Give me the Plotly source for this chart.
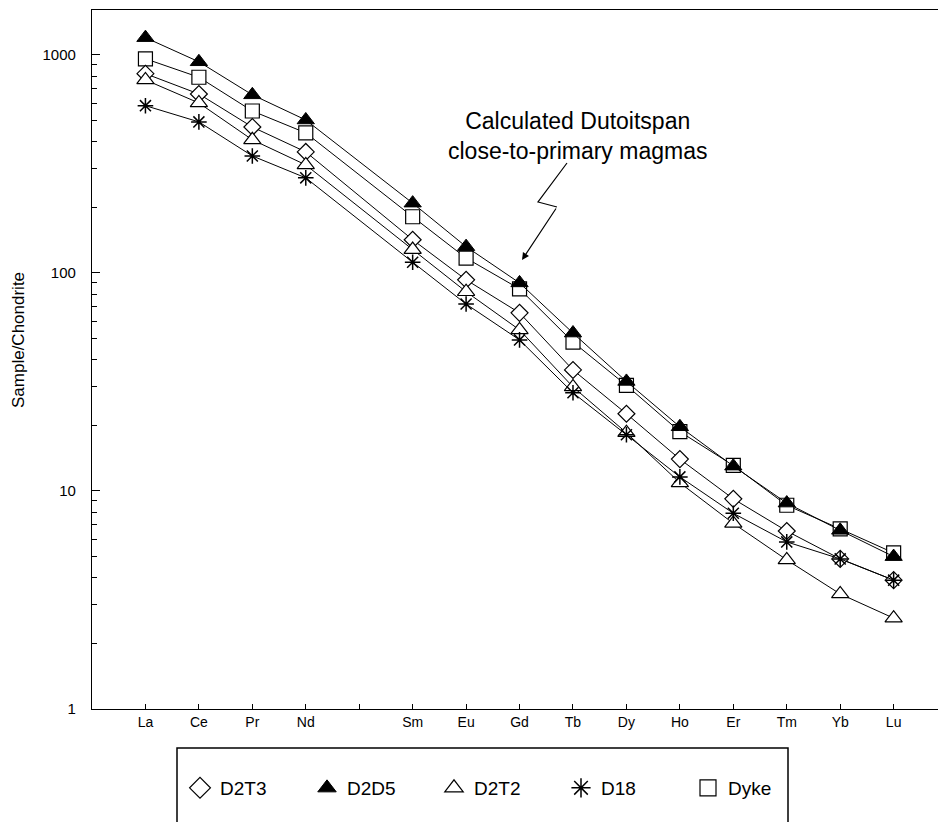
import plotly.graph_objects as go

# ---- data ----
elements = ["La", "Ce", "Pr", "Nd", "Pm", "Sm", "Eu", "Gd", "Tb", "Dy", "Ho", "Er", "Tm", "Yb", "Lu"]
D2T3 = [820, 662, 467, 359, None, 142, 93, 65.6, 35.9, 22.6, 14.0, 9.2, 6.55, 4.88, 3.9]
D2D5 = [1200, 930, 656, 503, None, 209, 132, 90, 53, 31.8, 19.7, 13.0, 8.8, 6.6, 5.0]
D2T2 = [768, 602, 408, 313, None, 128, 82, 54.8, 30.0, 18.5, 10.9, 7.1, 4.83, 3.37, 2.61]
D18 = [585, 493, 344, 273, None, 112, 72, 49.3, 28.2, 18.1, 11.6, 7.9, 5.84, 4.88, 3.9]
Dyke = [960, 790, 553, 439, None, 181, 117, 84.5, 48.2, 30.5, 18.7, 13.1, 8.6, 6.7, 5.2]

x_pos = list(range(1, len(elements) + 1))
tick_text = [e if e != "Pm" else "" for e in elements]

W, H = 938, 822
ML, MR, MT, MB = 92, 0, 10, 113
PW, PH = W - ML - MR, H - MT - MB


def px(x):
    return (x - ML) / PW


def py(y):
    return (H - MB - y) / PH


FONT = "Arial, Liberation Sans, sans-serif"

series = [
    ("Dyke", Dyke, dict(symbol="square", size=14, color="white", line=dict(color="black", width=1.2))),
    ("D2D5", D2D5, dict(symbol="triangle-up", size=15, color="black", line=dict(color="black", width=1))),
    ("D2T3", D2T3, dict(symbol="diamond", size=13, color="white", line=dict(color="black", width=1.2))),
    ("D2T2", D2T2, dict(symbol="triangle-up", size=15, color="white", line=dict(color="black", width=1.2))),
    ("D18", D18, dict(symbol="asterisk-open", size=13, color="black", line=dict(color="black", width=1.5))),
]

fig = go.Figure()
for name, vals, mk in series:
    fig.add_trace(go.Scatter(
        x=x_pos, y=vals, mode="lines+markers", name=name, connectgaps=True,
        line=dict(color="black", width=1), marker=mk, showlegend=False,
    ))

legend_order = ["D2T3", "D2D5", "D2T2", "D18", "Dyke"]
mk_map = {n: m for n, _, m in series}
for n in legend_order:
    m = dict(mk_map[n])
    m["size"] = 17
    fig.add_trace(go.Scatter(x=[None], y=[None], mode="markers", name=n, marker=m, showlegend=True))

fig.update_xaxes(
    range=[0, 15.83], tickvals=x_pos, ticktext=tick_text, ticks="inside", ticklen=5,
    tickcolor="black", showline=True, linecolor="black", linewidth=1.2, mirror=True,
    showgrid=False, zeroline=False, tickfont=dict(family=FONT, size=14, color="black"),
)
fig.update_yaxes(
    type="log", range=[0, 3.206], tickvals=[1, 10, 100, 1000], ticktext=["1", "10", "100", "1000"],
    ticks="inside", ticklen=8, tickcolor="black", showline=True, linecolor="black", linewidth=1.2,
    showgrid=False, zeroline=False, ticklabelstandoff=12,
    minor=dict(ticks="inside", ticklen=5, tickcolor="black", dtick="D1", showgrid=False),
    tickfont=dict(family=FONT, size=15, color="black"),
)

annotations = [
    dict(text="Sample/Chondrite", x=px(18), y=py(340), xref="paper", yref="paper",
         xanchor="center", yanchor="middle",
         showarrow=False, textangle=-90, font=dict(family=FONT, size=17, color="black")),
    dict(text="Calculated Dutoitspan<br>close-to-primary magmas", x=px(577), y=py(136),
         xref="paper", yref="paper", xanchor="center", yanchor="middle",
         showarrow=False, align="center",
         font=dict(family=FONT, size=23, color="black")),
    dict(text="", x=px(522), y=py(260), xref="paper", yref="paper", showarrow=True,
         ax=35, ay=-53, arrowhead=2, arrowsize=1.2, arrowwidth=1.2, arrowcolor="black"),
]

shapes = [
    dict(type="path", xref="paper", yref="paper",
         path=f"M {px(567)} {py(163)} L {px(538)} {py(202)} L {px(557)} {py(207)}",
         line=dict(color="black", width=1.2)),
    dict(type="rect", xref="paper", yref="paper", x0=px(177), x1=px(788), y0=py(748), y1=py(840),
         line=dict(color="black", width=1.5), fillcolor="rgba(0,0,0,0)"),
]

fig.update_layout(
    width=W, height=H, margin=dict(l=ML, r=MR, t=MT, b=MB),
    paper_bgcolor="white", plot_bgcolor="white",
    font=dict(family=FONT, color="black"),
    showlegend=True,
    legend=dict(orientation="h", x=px(180), xanchor="left", y=py(788), yanchor="middle",
                font=dict(family=FONT, size=19, color="black"), bgcolor="rgba(0,0,0,0)",
                borderwidth=0, entrywidth=82, itemwidth=30, traceorder="normal"),
    annotations=annotations, shapes=shapes,
)

fig.write_html("out.html")
